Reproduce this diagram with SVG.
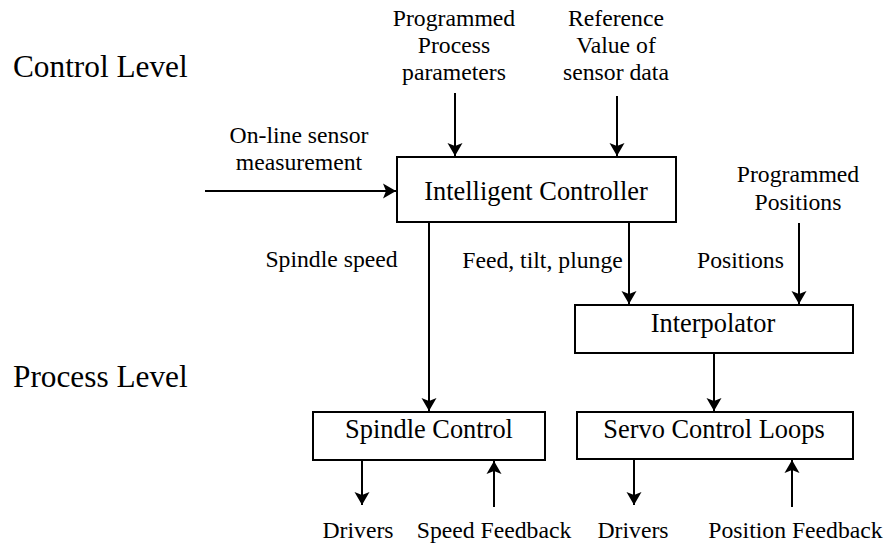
<svg xmlns="http://www.w3.org/2000/svg" width="887" height="544" viewBox="0 0 887 544">
<style>
text{font-family:"Liberation Serif","Times New Roman",serif;fill:#000}
.lvl{font-size:31.3px}
.lbl{font-size:23.7px;text-anchor:middle}
.box{font-size:26.4px;text-anchor:middle}
.node rect{fill:#fff;stroke:#000;stroke-width:2}
.c line{stroke:#000;stroke-width:2;marker-end:url(#ah)}
</style>
<defs>
<marker id="ah" viewBox="-13 -8 14 16" markerUnits="userSpaceOnUse" markerWidth="14" markerHeight="16" refX="0" refY="0" orient="auto">
<path d="M0,0 L-13,-7.5 L-10,0 L-13,7.5 Z" fill="#000"/>
</marker>
</defs>
<rect width="887" height="544" fill="#fff"/>
<text class="lvl" x="13" y="77">Control Level</text>
<text class="lvl" x="13" y="387">Process Level</text>
<g id="labels">
<text class="lbl" x="454" y="26">Programmed</text>
<text class="lbl" x="454" y="53">Process</text>
<text class="lbl" x="454" y="80">parameters</text>
<text class="lbl" x="616" y="26">Reference</text>
<text class="lbl" x="616" y="53">Value of</text>
<text class="lbl" x="616" y="80">sensor data</text>
<text class="lbl" x="299" y="143">On-line sensor</text>
<text class="lbl" x="299" y="170">measurement</text>
<text class="lbl" x="798" y="182">Programmed</text>
<text class="lbl" x="798" y="210">Positions</text>
<text class="lbl" x="331.5" y="267">Spindle speed</text>
<text class="lbl" x="542.5" y="268">Feed, tilt, plunge</text>
<text class="lbl" x="740.5" y="268">Positions</text>
<text class="lbl" x="358" y="538">Drivers</text>
<text class="lbl" x="494" y="538">Speed Feedback</text>
<text class="lbl" x="633" y="538">Drivers</text>
<text class="lbl" x="795.5" y="538">Position Feedback</text>
</g>
<g class="c" id="connectors">
<line x1="205" y1="191" x2="396" y2="191"/>
<line x1="455" y1="93" x2="455" y2="156"/>
<line x1="617" y1="96" x2="617" y2="156"/>
<line x1="429" y1="222" x2="429" y2="411"/>
<line x1="629" y1="222" x2="629" y2="304"/>
<line x1="799" y1="223" x2="799" y2="304"/>
<line x1="714" y1="353" x2="714" y2="411"/>
<line x1="362" y1="460" x2="362" y2="505"/>
<line x1="494" y1="507" x2="494" y2="461"/>
<line x1="634" y1="459" x2="634" y2="505"/>
<line x1="792" y1="507" x2="792" y2="460"/>
</g>
<g class="node" id="intelligent-controller">
<rect x="397" y="157" width="279" height="65"/>
<text class="box" x="536" y="200">Intelligent Controller</text>
</g>
<g class="node" id="interpolator">
<rect x="575" y="305" width="278" height="48"/>
<text class="box" x="713" y="332">Interpolator</text>
</g>
<g class="node" id="spindle-control">
<rect x="313" y="412" width="232" height="48"/>
<text class="box" x="429" y="438">Spindle Control</text>
</g>
<g class="node" id="servo-control-loops">
<rect x="577" y="412" width="276" height="47"/>
<text class="box" x="714" y="438">Servo Control Loops</text>
</g>
</svg>
